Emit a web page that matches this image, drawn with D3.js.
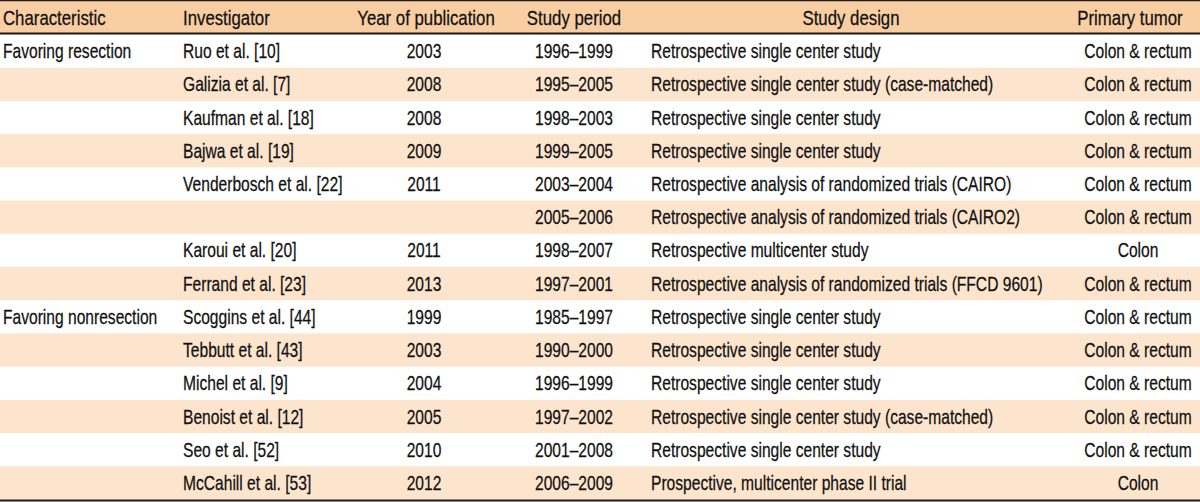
<!DOCTYPE html>
<html>
<head>
<meta charset="utf-8">
<script src="https://cdn.jsdelivr.net/npm/d3@7"></script>
<style>
  html, body { margin: 0; padding: 0; background: #fff; }
  svg { display: block; }
  text { font-family: "Liberation Sans", Arial, sans-serif; fill: #111; stroke: #111; stroke-width: 0.25px; }
</style>
</head>
<body>
<svg id="chart" width="1200" height="502"></svg>
<script>
// ---- data ----
const headers = ["Characteristic", "Investigator", "Year of publication", "Study period", "Study design", "Primary tumor"];
const characteristics = ["Favoring resection", "", "", "", "", "", "", "", "Favoring nonresection", "", "", "", "", ""];
const investigators = ["Ruo et al. [10]", "Galizia et al. [7]", "Kaufman et al. [18]", "Bajwa et al. [19]", "Venderbosch et al. [22]", "", "Karoui et al. [20]", "Ferrand et al. [23]", "Scoggins et al. [44]", "Tebbutt et al. [43]", "Michel et al. [9]", "Benoist et al. [12]", "Seo et al. [52]", "McCahill et al. [53]"];
const years = ["2003", "2008", "2008", "2009", "2011", "", "2011", "2013", "1999", "2003", "2004", "2005", "2010", "2012"];
const periods = ["1996–1999", "1995–2005", "1998–2003", "1999–2005", "2003–2004", "2005–2006", "1998–2007", "1997–2001", "1985–1997", "1990–2000", "1996–1999", "1997–2002", "2001–2008", "2006–2009"];
const designs = ["Retrospective single center study", "Retrospective single center study (case-matched)", "Retrospective single center study", "Retrospective single center study", "Retrospective analysis of randomized trials (CAIRO)", "Retrospective analysis of randomized trials (CAIRO2)", "Retrospective multicenter study", "Retrospective analysis of randomized trials (FFCD 9601)", "Retrospective single center study", "Retrospective single center study", "Retrospective single center study", "Retrospective single center study (case-matched)", "Retrospective single center study", "Prospective, multicenter phase II trial"];
const tumors = ["Colon & rectum", "Colon & rectum", "Colon & rectum", "Colon & rectum", "Colon & rectum", "Colon & rectum", "Colon", "Colon & rectum", "Colon & rectum", "Colon & rectum", "Colon & rectum", "Colon & rectum", "Colon & rectum", "Colon"];

// ---- layout ----
const W = 1200;
const headerTop = 1, headerBottom = 33.5, tableBottom = 500.5;
const fontSize = 20;
const squeeze = 0.78;       // condensed look, body
const headerSqueeze = 0.84; // condensed look, header
const colors = { header: "#f9cea3", band: "#fde4cd", line: "#1a1a1a" };

const columns = [
  { values: characteristics, x: 3, anchor: "start" },
  { values: investigators, x: 183, anchor: "start" },
  { values: years, x: 424, anchor: "middle" },
  { values: periods, x: 574, anchor: "middle" },
  { values: designs, x: 651, anchor: "start" },
  { values: tumors, x: 1138, anchor: "middle" }
];
const headerCols = [
  { x: 3, anchor: "start" },
  { x: 183, anchor: "start" },
  { x: 426, anchor: "middle" },
  { x: 574, anchor: "middle" },
  { x: 851, anchor: "middle" },
  { x: 1130, anchor: "middle" }
];

const rowIdx = d3.range(investigators.length);
const y = d3.scaleBand().domain(rowIdx).range([headerBottom + 1, tableBottom - 1]).paddingInner(0).paddingOuter(0);

const svg = d3.select("#chart");

// header background
svg.append("rect").attr("x", 0).attr("y", headerTop).attr("width", W).attr("height", headerBottom - headerTop).attr("fill", colors.header);

// banded rows
svg.append("g").selectAll("rect").data(rowIdx.filter(i => i % 2 === 1)).join("rect")
  .attr("x", 0).attr("y", i => y(i)).attr("width", W).attr("height", y.bandwidth()).attr("fill", colors.band);

// lines
svg.append("line").attr("x1", 0).attr("x2", W).attr("y1", 0.6).attr("y2", 0.6).attr("stroke", colors.line).attr("stroke-width", 1.2);
svg.append("line").attr("x1", 0).attr("x2", W).attr("y1", headerBottom).attr("y2", headerBottom).attr("stroke", colors.line).attr("stroke-width", 2);
svg.append("line").attr("x1", 0).attr("x2", W).attr("y1", tableBottom).attr("y2", tableBottom).attr("stroke", colors.line).attr("stroke-width", 2);

// header texts
svg.append("g").selectAll("text").data(headers).join("text")
  .attr("transform", (d, i) => `translate(${headerCols[i].x},24.8) scale(${headerSqueeze},1)`)
  .attr("text-anchor", (d, i) => headerCols[i].anchor)
  .attr("font-size", fontSize)
  .text(d => d);

// body texts
columns.forEach(col => {
  svg.append("g").selectAll("text").data(rowIdx).join("text")
    .attr("transform", i => `translate(${col.x},${y(i) + y.bandwidth() / 2 + 7.1}) scale(${squeeze},1)`)
    .attr("text-anchor", col.anchor)
    .attr("font-size", fontSize)
    .text(i => col.values[i]);
});
</script>
</body>
</html>
